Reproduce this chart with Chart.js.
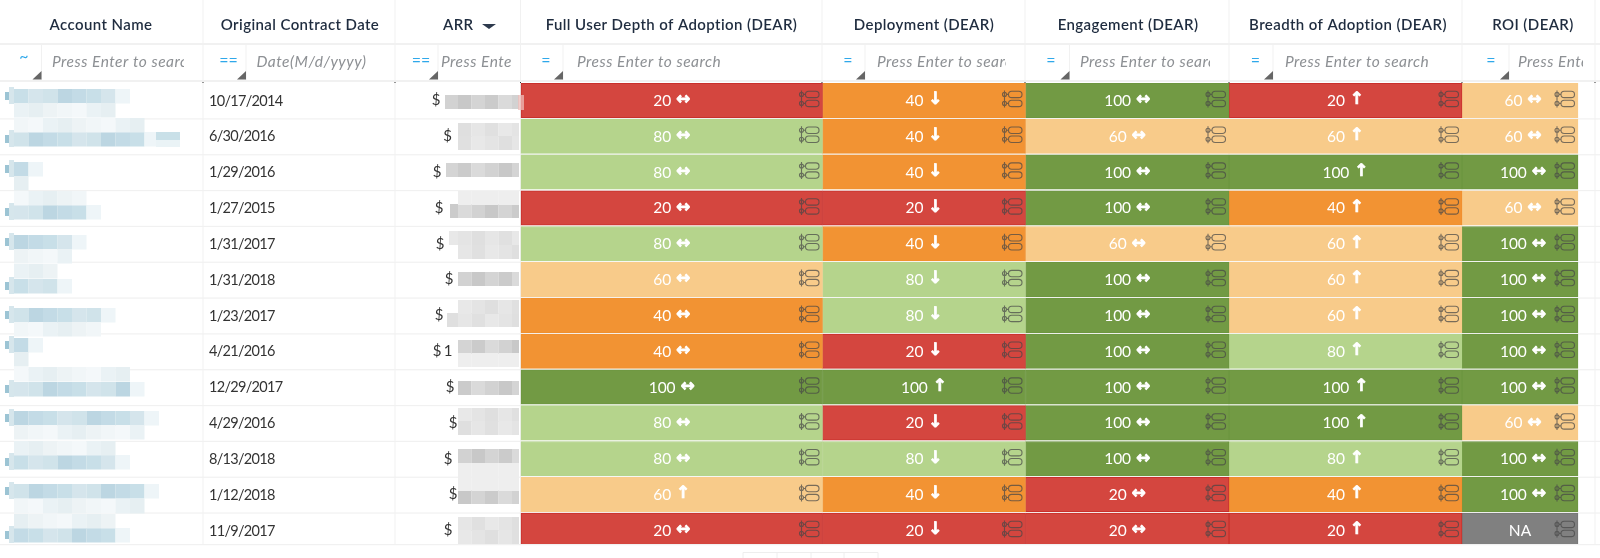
<!DOCTYPE html>
<html>
<head>
<meta charset="utf-8">
<style>
  html, body { margin: 0; padding: 0; background: #fff; overflow: hidden; }
  canvas { display: block; }
</style>
<script src="https://cdn.jsdelivr.net/npm/chart.js@4"></script>
</head>
<body>
<canvas id="table" width="1600" height="558"></canvas>
<script>
// values
const contractDates = ['10/17/2014', '6/30/2016', '1/29/2016', '1/27/2015', '1/31/2017', '1/31/2018', '1/23/2017',
  '4/21/2016', '12/29/2017', '4/29/2016', '8/13/2018', '1/12/2018', '11/9/2017'];

const fullUserDepth = [20, 80, 80, 20, 80, 60, 40, 40, 100, 80, 80, 60, 20];
const deployment = [40, 40, 40, 20, 40, 80, 80, 20, 100, 20, 80, 40, 20];
const engagement = [100, 60, 100, 100, 60, 100, 100, 100, 100, 100, 100, 20, 20];
const breadth = [20, 60, 100, 40, 60, 60, 60, 80, 100, 100, 80, 40, 20];
const roi = [60, 60, 100, 60, 100, 100, 100, 100, 100, 60, 100, 100, null];

const fullUserTrend = ['↔', '↔', '↔', '↔', '↔', '↔', '↔', '↔', '↔', '↔', '↔', '↑', '↔'];
const deploymentTrend = ['↓', '↓', '↓', '↓', '↓', '↓', '↓', '↓', '↑', '↓', '↓', '↓', '↓'];
const engagementTrend = ['↔', '↔', '↔', '↔', '↔', '↔', '↔', '↔', '↔', '↔', '↔', '↔', '↔'];
const breadthTrend = ['↑', '↑', '↑', '↑', '↑', '↑', '↑', '↑', '↑', '↑', '↑', '↑', '↑'];
const roiTrend = ['↔', '↔', '↔', '↔', '↔', '↔', '↔', '↔', '↔', '↔', '↔', '↔', ''];

const scoreSeries = [fullUserDepth, deployment, engagement, breadth, roi];
const trendSeries = [fullUserTrend, deploymentTrend, engagementTrend, breadthTrend, roiTrend];

// layout
const cellEdges = [521, 822.5, 1025.5, 1229, 1462, 1578];
const columnLines = [203, 395, 520.5, 822, 1025, 1229, 1462, 1595];
const headerLabels = [
  ['Account Name', 101], ['Original Contract Date', 300], ['ARR', 458], ['Full User Depth of Adoption (DEAR)', 671.5],
  ['Deployment (DEAR)', 924], ['Engagement (DEAR)', 1128], ['Breadth of Adoption (DEAR)', 1348], ['ROI (DEAR)', 1533]
];
// symbol, symbol x, separator x, placeholder, placeholder x, clip x
const filterCells = [
  ['~', 24, 41.5, 'Press Enter to search', 52, 184],
  ['==', 228.5, 246, 'Date(M/d/yyyy)', 256.5, 380],
  ['==', 421, 438, 'Press Enter to search', 441, 511.5],
  ['=', 546, 563, 'Press Enter to search', 577, 800],
  ['=', 848, 865, 'Press Enter to search', 877, 1006],
  ['=', 1051, 1069.5, 'Press Enter to search', 1080, 1210],
  ['=', 1255.5, 1273, 'Press Enter to search', 1285, 1450],
  ['=', 1491, 1509, 'Press Enter to search', 1518, 1583]
];

// blurred-out account names and ARR amounts in the source
const nameCells = [7, 9, 1, 5, 4, 3, 6, 1, 8, 9, 7, 9, 7];
const nameStrongY = [89, 132, 162, 205, 235, 279, 308, 338, 382, 411, 455, 484, 528];
const nameWeakY = [103, 118, 176, 191, 249, 264, 322, 352, 367, 425, 441, 499, 514];
const arrStart = [445, 458, 446, 450, 449, 458, 447, 458, 458, 458, 458, 458, 458];
const arrStrongY = [95, 123, 163, 204, 231, 272, 313, 340, 381, 408, 449, 490, 517];
const arrWeakY = [null, 136, null, 191, 245, null, 300, 353, null, 421, 463, 477, 530];
const arrPale = [false, true, false, false, true, false, true, false, false, true, false, false, true];
const dollarX = [436, 447.5, 437, 439, 440, 449, 439, 437, 450, 453, 448, 453, 448];
const nameStrong = ['#c8dfe8', '#d0e3ea', '#c3dbe6', '#d5e5ec', '#bcd6e2'];
const nameWeak = ['#eaf2f5', '#f1f6f8', '#e6eff2', '#f4f8fa', '#edf3f5'];
const arrStrong = ['#d2d2d2', '#c8c8c8', '#d4d4d4', '#cbcbcb', '#dadada'];
const arrLight = ['#e4e4e4', '#dfdfdf', '#e6e6e6', '#e0e0e0', '#e8e8e8'];

const fillColors = { 20: '#d4463f', 40: '#f29333', 60: '#f8cb8a', 80: '#b5d48c', 100: '#729a44', NA: '#808080' };
const edgeColors = { 20: '#c9302c', 40: '#f0902f', 60: '#f8cb8a', 80: '#b5d48c', 100: '#6d9640', NA: '#777777' };

const FONT = 'Lato, "Open Sans", sans-serif';
const ARROW_FONT = 'bold 17px "DejaVu Sans"';

function drawText(ctx, text, x, y, font, color, align) {
  ctx.font = font;
  ctx.fillStyle = color;
  ctx.textAlign = align || 'left';
  ctx.textBaseline = 'middle';
  ctx.fillText(text, x, y);
}

function drawFilterIcon(ctx, right, cy) {
  const x = right - 20;
  ctx.strokeStyle = 'rgba(70,70,70,0.72)';
  ctx.lineWidth = 1.1;
  ctx.beginPath();
  ctx.moveTo(x + 2.5, cy - 8.5);
  ctx.lineTo(x + 2.5, cy + 8.5);
  [-4.5, 4.5].forEach(dy => {
    ctx.moveTo(x + 4.5, cy + dy);
    ctx.arc(x + 2.5, cy + dy, 2, 0, Math.PI * 2);
    ctx.moveTo(x + 4.5, cy + dy);
    ctx.lineTo(x + 6.5, cy + dy);
    ctx.roundRect(x + 6.5, cy + dy - 3.2, 13.5, 6.4, 3.2);
  });
  ctx.stroke();
}

const tablePlugin = {
  id: 'tablePlugin',
  beforeDatasetsDraw(chart) {
    const { ctx, scales: { x, y } } = chart;
    ctx.save();

    // header and filter bands
    ctx.fillStyle = '#f1f1f1';
    ctx.fillRect(0, 43, 1600, 2);
    ctx.fillRect(0, 80, 1600, 2);

    // rows
    contractDates.forEach((d, i) => {
      const bottom = y.getPixelForValue(i) + 17.9;
      ctx.fillRect(0, (i === 12 ? 544 : bottom), 1600, 1.2);
    });
    columnLines.forEach(px => {
      ctx.fillRect(x.getPixelForValue(px) - 0.5, 0, 1, 544);
    });

    // pager stub under the table
    ctx.strokeStyle = '#eeeeee';
    ctx.lineWidth = 1;
    ctx.beginPath();
    [743, 777, 811, 844, 878].forEach(px => {
      ctx.moveTo(px, 552.5);
      ctx.lineTo(px, 558);
    });
    ctx.moveTo(743, 552.5);
    ctx.lineTo(878, 552.5);
    ctx.stroke();

    // header text
    ctx.letterSpacing = '0.4px';
    headerLabels.forEach(([label, cx]) => {
      drawText(ctx, label, label === 'ARR' ? 443 : cx, 25, '600 15px ' + FONT, '#1f2c3f', label === 'ARR' ? 'left' : 'center');
    });
    ctx.letterSpacing = '0px';
    ctx.fillStyle = '#2d3a4d';
    ctx.beginPath();
    ctx.moveTo(482, 24);
    ctx.lineTo(496, 24);
    ctx.lineTo(489, 29);
    ctx.closePath();
    ctx.fill();

    // filter row
    filterCells.forEach(([symbol, sx, sep, placeholder, px, clipX]) => {
      drawText(ctx, symbol, sx, symbol === '~' ? 57 : 60.5, '16px ' + FONT, '#2fa8ea', 'center');
      ctx.fillStyle = '#f1f1f1';
      ctx.fillRect(sep - 0.5, 45, 1, 35);
      ctx.fillStyle = '#666666';
      ctx.beginPath();
      ctx.moveTo(sep, 71);
      ctx.lineTo(sep, 79.5);
      ctx.lineTo(sep - 9, 79.5);
      ctx.closePath();
      ctx.fill();
      ctx.save();
      ctx.beginPath();
      ctx.rect(px - 2, 45, clipX - px + 2, 35);
      ctx.clip();
      ctx.letterSpacing = '0.5px';
      drawText(ctx, placeholder, px, 62, 'italic 15.5px ' + FONT, '#8d9094');
      ctx.restore();
    });

    // left columns
    contractDates.forEach((date, i) => {
      const cy = y.getPixelForValue(i);
      ctx.letterSpacing = '-0.7px';
      drawText(ctx, date, 209, cy + 0.5, '14.5px ' + FONT, '#333333');
      ctx.letterSpacing = '0px';
      drawText(ctx, '$', dollarX[i], cy, '15px ' + FONT, '#333333', 'center');
      if (i === 7) drawText(ctx, '1', 448, cy, '15px ' + FONT, '#333333', 'center');
    });

    // name redaction mosaic
    nameCells.forEach((count, i) => {
      for (let c = 0; c < count; c++) {
        const cx = 14 + c * 14.5;
        ctx.fillStyle = nameStrong[(c * 3 + i) % 5];
        ctx.fillRect(cx, nameStrongY[i], 14.5, 14.5);
        ctx.fillStyle = nameWeak[(c * 2 + i) % 5];
        ctx.fillRect(cx, nameWeakY[i], 14.5, 14.5);
      }
      // pale trailing cell of the blur
      ctx.fillStyle = '#eef5f8';
      ctx.fillRect(14 + count * 14.5, nameStrongY[i], 14.5, 14.5);
      ctx.fillStyle = '#d6e6ec';
      ctx.fillRect(9, nameStrongY[i] - 2, 5, 17);
      ctx.fillStyle = '#9cc4d4';
      ctx.fillRect(5, nameStrongY[i] + 3, 4, 8);
      if (i === 1) {
        ctx.fillStyle = '#c9e0e8';
        ctx.fillRect(156, 132, 24, 8);
        ctx.fillStyle = '#eaf3f6';
        ctx.fillRect(156, 140, 24, 7);
      }
    });

    // ARR redaction mosaic
    arrStart.forEach((start, i) => {
      const strong = arrPale[i] ? arrLight : arrStrong;
      let px = start;
      let c = 0;
      while (px < 519) {
        const w = Math.min(px < 458 ? 458 - px : 13.5, 519 - px);
        ctx.fillStyle = strong[(c + i) % 5];
        ctx.fillRect(px, arrStrongY[i], w, 14);
        if (arrWeakY[i] !== null && px >= 458) {
          ctx.fillStyle = arrPale[i] ? arrLight[(c + i + 2) % 5] : '#eeeeee';
          ctx.fillRect(px, arrWeakY[i], w, 14);
        }
        px += w;
        c++;
      }
    });
    ctx.restore();
  },
  afterDatasetsDraw(chart) {
    const { ctx, scales: { x, y } } = chart;
    ctx.save();
    scoreSeries.forEach((series, col) => {
      const left = x.getPixelForValue(cellEdges[col]);
      const right = x.getPixelForValue(cellEdges[col + 1]);
      series.forEach((score, row) => {
        const cy = y.getPixelForValue(row);
        const label = score === null ? 'NA' : String(score);
        const trend = trendSeries[col][row];
        const mid = (left + right) / 2 + (col === 4 && trend ? 3 : 0);
        ctx.font = '15.5px ' + FONT;
        const numW = ctx.measureText(label).width;
        ctx.font = ARROW_FONT;
        const arrowW = trend ? ctx.measureText(trend).width : 0;
        const gap = trend ? 5 : 0;
        const start = mid - (numW + gap + arrowW) / 2;
        drawText(ctx, label, start, cy + 0.5, '15.5px ' + FONT, '#ffffff');
        if (trend) {
          drawText(ctx, trend, start + numW + gap, cy - 0.5, ARROW_FONT, '#ffffff');
          ctx.strokeStyle = '#ffffff';
          ctx.lineWidth = 0.7;
          ctx.strokeText(trend, start + numW + gap, cy - 0.5);
        }
        drawFilterIcon(ctx, right - 3.5, cy - 1.5);
      });
    });
    // bleed of the ARR blur over the first red cell
    ctx.fillStyle = 'rgba(238,190,186,0.75)';
    ctx.fillRect(518, 95, 6, 15);
    // tiny dark corners where the column lines meet the first row
    ctx.fillStyle = '#333333';
    columnLines.forEach(px => ctx.fillRect(px - 0.5, 82, 1, 1));
    ctx.restore();
  }
};

new Chart(document.getElementById('table').getContext('2d'), {
  type: 'bar',
  plugins: [tablePlugin],
  data: {
    labels: contractDates,
    datasets: scoreSeries.map((series, col) => ({
      data: series.map(() => [cellEdges[col], cellEdges[col + 1]]),
      backgroundColor: series.map(s => fillColors[s === null ? 'NA' : s]),
      borderColor: series.map(s => edgeColors[s === null ? 'NA' : s]),
      borderWidth: 1,
      borderSkipped: false,
      barThickness: 34.4,
      grouped: false,
      clip: { left: 0, top: 0, right: 0, bottom: -4.3 }
    }))
  },
  options: {
    indexAxis: 'y',
    responsive: false,
    animation: false,
    layout: { padding: { top: 82.5, bottom: 9.7, left: 0, right: 0 } },
    scales: {
      x: { display: false, min: 0, max: 1600 },
      y: { display: false }
    },
    plugins: {
      legend: { display: false },
      tooltip: { enabled: false }
    }
  }
});
</script>
</body>
</html>
